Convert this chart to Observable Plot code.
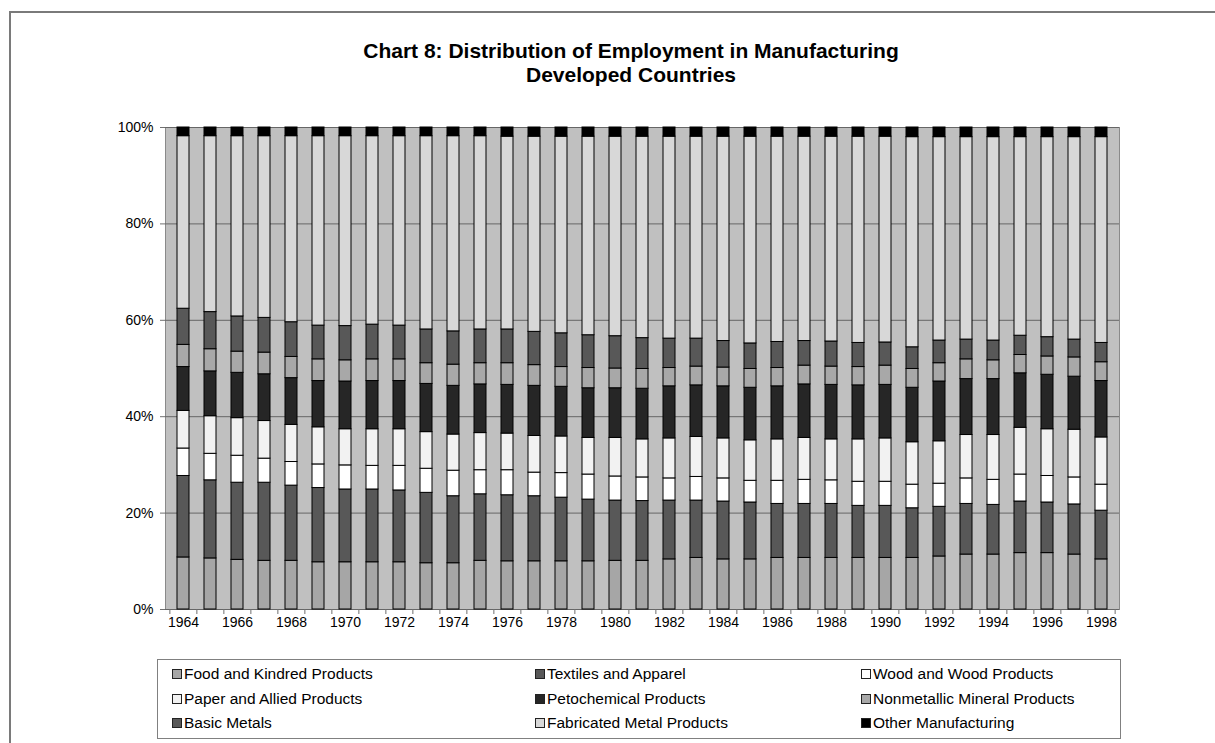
<!DOCTYPE html>
<html>
<head>
<meta charset="utf-8">
<script src="https://cdn.jsdelivr.net/npm/d3@7"></script>
<script src="https://cdn.jsdelivr.net/npm/@observablehq/plot@0.6"></script>
<style>
  body { margin: 0; background: #fff; font-family: "Liberation Sans", Arial, sans-serif; }
  #wrap { position: relative; width: 1215px; height: 743px; overflow: hidden; }
  #border { position: absolute; left: 9px; top: 11px; width: 1300px; height: 800px;
            border-left: 2px solid #7a7a7a; border-top: 2px solid #7a7a7a; }
  #title { position: absolute; left: 0; top: 39px; width: 1262px; text-align: center;
           font-weight: bold; font-size: 21px; line-height: 24px; color: #000; }
  #chart { position: absolute; left: 0; top: 100px; }
  #legend { position: absolute; left: 157px; top: 659px; width: 962px; height: 78px;
            border: 1px solid #808080; }
  .item { position: absolute; font-size: 15.5px; line-height: 18px; white-space: nowrap; color: #000; }
  .sw { display: inline-block; width: 8px; height: 8px; border: 1px solid #222;
        margin-right: 2px; vertical-align: 0px; }
</style>
</head>
<body>
<div id="wrap">
  <div id="border"></div>
  <div id="title">Chart 8: Distribution of Employment in Manufacturing<br>Developed Countries</div>
  <div id="chart"></div>
  <div id="legend"></div>
</div>
<script>
// ---- data (shares of manufacturing employment, %) ----
const years = [1964,1965,1966,1967,1968,1969,1970,1971,1972,1973,1974,1975,1976,1977,1978,1979,1980,
               1981,1982,1983,1984,1985,1986,1987,1988,1989,1990,1991,1992,1993,1994,1995,1996,1997,1998];
const xTickLabels = [1964,1966,1968,1970,1972,1974,1976,1978,1980,1982,1984,1986,1988,1990,1992,1994,1996,1998];
const yTickValues = [0,20,40,60,80,100];

const seriesNames = ["Food and Kindred Products","Textiles and Apparel","Wood and Wood Products",
  "Paper and Allied Products","Petochemical Products","Nonmetallic Mineral Products",
  "Basic Metals","Fabricated Metal Products","Other Manufacturing"];
const seriesColors = ["#a6a6a6","#585858","#ffffff","#f2f2f2","#262626","#a8a8a8","#585858","#d8d8d8","#000000"];

const food        = [10.8,10.6,10.3,10.1,10.1,9.8,9.8,9.8,9.8,9.6,9.6,10.1,10.0,10.0,10.0,10.0,10.1,10.1,10.4,10.7,10.4,10.4,10.7,10.7,10.7,10.7,10.7,10.7,11.0,11.4,11.4,11.7,11.7,11.4,10.4];
const textiles    = [16.9,16.2,16.0,16.2,15.6,15.4,15.1,15.1,14.9,14.6,13.9,13.8,13.7,13.5,13.2,12.8,12.5,12.4,12.2,11.9,12.0,11.8,11.2,11.2,11.2,10.8,10.8,10.3,10.3,10.5,10.3,10.7,10.5,10.4,10.1];
const wood        = [5.7,5.5,5.6,5.0,4.9,4.9,5.0,4.9,5.1,5.0,5.3,5.0,5.2,4.9,5.1,5.2,5.0,4.9,4.6,4.9,4.8,4.5,4.8,5.0,4.9,5.0,5.0,4.9,4.8,5.3,5.2,5.6,5.5,5.6,5.4];
const paper       = [7.8,7.8,7.8,7.8,7.7,7.7,7.5,7.6,7.6,7.6,7.5,7.7,7.6,7.6,7.6,7.6,8.0,7.9,8.3,8.3,8.3,8.4,8.6,8.7,8.5,8.8,9.0,8.8,8.8,9.0,9.3,9.7,9.7,9.9,9.8];
const petro       = [9.1,9.3,9.4,9.7,9.7,9.6,9.9,10.0,10.0,10.0,10.1,10.1,10.1,10.4,10.3,10.3,10.3,10.5,10.8,10.7,10.8,10.9,11.0,11.1,11.3,11.2,11.1,11.3,12.4,11.6,11.6,11.3,11.3,11.0,11.7];
const nonmetallic = [4.6,4.6,4.4,4.5,4.4,4.5,4.4,4.5,4.5,4.3,4.4,4.4,4.5,4.3,4.1,4.2,4.1,4.1,3.8,3.9,3.9,3.9,3.8,3.9,3.8,3.8,4.0,3.9,3.8,4.1,3.9,3.8,3.8,4.0,3.9];
const basicMetals = [7.5,7.7,7.3,7.2,7.2,7.0,7.1,7.2,7.0,7.0,6.9,7.0,7.0,6.9,7.0,6.8,6.7,6.4,6.1,5.8,5.5,5.3,5.4,5.1,5.2,5.0,4.8,4.5,4.7,4.1,4.1,4.0,4.0,3.7,4.0];
const fabricated  = [35.8,36.5,37.4,37.7,38.6,39.3,39.4,39.1,39.3,40.1,40.5,40.1,40.0,40.5,40.8,41.2,41.4,41.8,41.9,41.9,42.4,42.9,42.6,42.4,42.5,42.8,42.7,43.6,42.2,42.0,42.2,41.2,41.5,42.0,42.7];
const other       = [1.8,1.8,1.8,1.8,1.8,1.8,1.8,1.8,1.8,1.8,1.8,1.8,1.9,1.9,1.9,1.9,1.9,1.9,1.9,1.9,1.9,1.9,1.9,1.9,1.9,1.9,1.9,2.0,2.0,2.0,2.0,2.0,2.0,2.0,2.0];

const seriesValues = [food, textiles, wood, paper, petro, nonmetallic, basicMetals, fabricated, other];

// ---- tidy rows built from the arrays ----
const rows = seriesNames.flatMap((s, i) => years.map((y, j) => ({year: y, series: s, value: seriesValues[i][j]})));

const W = 1215, H = 545;
const mL = 165, mR = 96, mT = 27, mB = 36;
const step = (W - mL - mR) / years.length;

const chart = Plot.plot({
  width: W, height: H,
  marginLeft: mL, marginRight: mR, marginTop: mT, marginBottom: mB,
  style: {fontFamily: "'Liberation Sans', Arial, sans-serif", fontSize: "14px", color: "#000", background: "transparent", overflow: "visible"},
  x: {type: "band", domain: years, paddingInner: 0.57, paddingOuter: 0.285, label: null},
  y: {domain: [0, 100], label: null},
  color: {domain: seriesNames, range: seriesColors},
  marks: [
    Plot.frame({fill: "#c0c0c0", stroke: "#8a8a8a"}),
    Plot.ruleY(yTickValues, {stroke: "#666666", strokeWidth: 1}),
    Plot.barY(rows, {x: "year", y: "value", z: "series", fill: "series", stroke: "#000", strokeWidth: 1}),
    Plot.axisY({ticks: yTickValues, tickFormat: d => d + "%", tickSize: 5, tickPadding: 7, stroke: "#707070", label: null}),
    Plot.axisX({ticks: xTickLabels, tickSize: 0, tickPadding: 8, tickFormat: d => String(d), label: null}),
    Plot.axisX({ticks: years, tickSize: 5, tickFormat: () => "", dx: -step / 2, stroke: "#707070", label: null}),
    Plot.axisX({ticks: years.slice(-1), tickSize: 5, tickFormat: () => "", dx: step / 2, stroke: "#707070", label: null})
  ]
});
document.getElementById("chart").appendChild(chart);

// ---- legend (3 columns x 3 rows, row-major order as in the original) ----
const legend = document.getElementById("legend");
const colX = [14, 377, 703];
const rowY = [5, 30, 54];
seriesNames.forEach((name, i) => {
  const el = document.createElement("div");
  el.className = "item";
  el.style.left = colX[i % 3] + "px";
  el.style.top = rowY[Math.floor(i / 3)] + "px";
  const sw = document.createElement("span");
  sw.className = "sw";
  sw.style.background = seriesColors[i];
  el.appendChild(sw);
  el.appendChild(document.createTextNode(name));
  legend.appendChild(el);
});
</script>
</body>
</html>
